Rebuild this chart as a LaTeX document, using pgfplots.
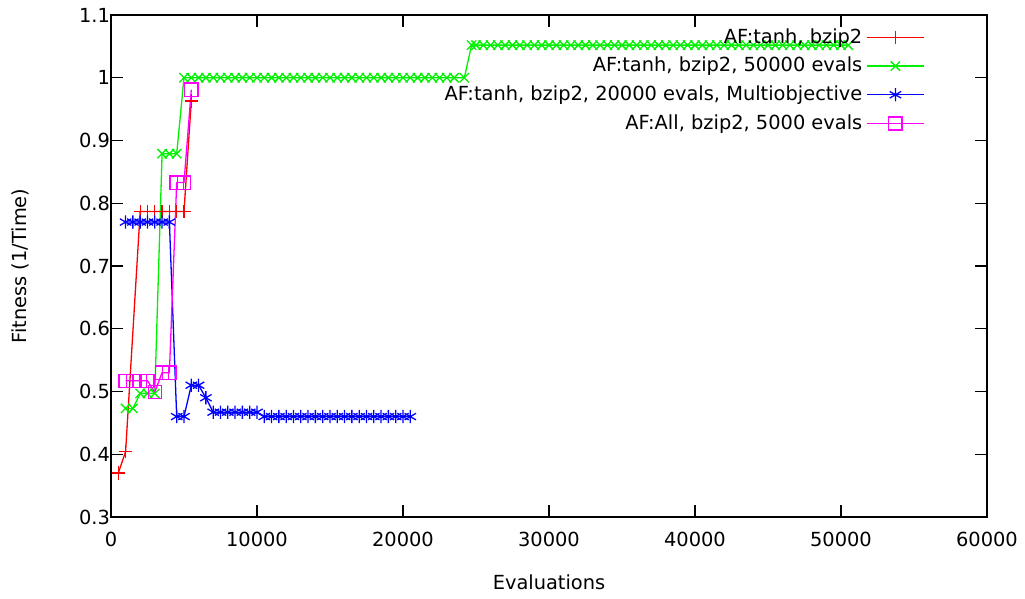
\documentclass[border=0pt]{standalone}
\usepackage{fontspec}
\setmainfont{DejaVu Sans}
\usepackage{pgfplots}
\pgfplotsset{compat=1.18}

\definecolor{gpred}{RGB}{255,0,0}
\definecolor{gpgreen}{RGB}{0,240,0}
\definecolor{gpblue}{RGB}{0,0,255}
\definecolor{gpmag}{RGB}{255,0,255}

\begin{document}
\begin{tikzpicture}
\useasboundingbox (-55.5pt,-41pt) rectangle (457pt,258.5pt);
\begin{axis}[
    scale only axis,
    width=438pt, height=251pt,
    xmin=0, xmax=60000, ymin=0.3, ymax=1.1,
    xtick={0,10000,...,60000},
    ytick={0.3,0.4,...,1.1},
    scaled x ticks=false,
    /pgf/number format/1000 sep={},
    /pgf/number format/assume math mode=true,
    font=\fontsize{9.7}{11.5}\selectfont,
    tick align=inside,
    major tick length=6pt,
    axis line style={line width=0.75pt},
    every tick/.style={black, line width=0.6pt},
    xlabel={Evaluations},
    ylabel={Fitness (1/Time)},
    xlabel style={yshift=-7pt},
    ylabel style={yshift=18pt},
    xticklabel style={yshift=-4pt},
    yticklabel style={xshift=3pt},
    legend plot pos=right,
    legend cell align=right,
    legend style={draw=none, fill=none, at={(0.936,0.99)}, anchor=north east,
        row sep=1.5pt, font=\fontsize{9.7}{11.5}\selectfont},
    legend image code/.code={
        \draw[mark=none] (0.1cm,0cm) -- (1.1cm,0cm);
        \draw[only marks] plot coordinates {(0.6cm,0cm)};
    },
    every axis plot/.append style={line width=0.65pt, mark size=3.3pt},
]
% AF:tanh, bzip2
\addplot[color=gpred, draw=gpred, mark=+, mark options={draw=gpred}] coordinates {
    (500,0.370) (1000,0.404) (2000,0.787) (2500,0.787) (3000,0.787)
    (3500,0.787) (4000,0.787) (4500,0.787) (5000,0.787) (5500,0.963)
};
\addlegendentry{AF:tanh, bzip2}
% AF:tanh, bzip2, 50000 evals
\addplot[color=gpgreen, draw=gpgreen, mark=x, mark options={draw=gpgreen}] coordinates {
    (1000,0.473) (1500,0.473) (2000,0.497) (2500,0.497) (3000,0.497)
    (3500,0.879) (4000,0.879) (4500,0.879)
    (5000,1.0) (5500,1.0) (6000,1.0) (6500,1.0) (7000,1.0) (7500,1.0)
    (8000,1.0) (8500,1.0) (9000,1.0) (9500,1.0) (10000,1.0) (10500,1.0)
    (11000,1.0) (11500,1.0) (12000,1.0) (12500,1.0) (13000,1.0) (13500,1.0)
    (14000,1.0) (14500,1.0) (15000,1.0) (15500,1.0) (16000,1.0) (16500,1.0)
    (17000,1.0) (17500,1.0) (18000,1.0) (18500,1.0) (19000,1.0) (19500,1.0)
    (20000,1.0) (20500,1.0) (21000,1.0) (21500,1.0) (22000,1.0) (22500,1.0)
    (23000,1.0) (23500,1.0) (24200,1.0)
    (24700,1.052) (25000,1.052) (25500,1.052) (26000,1.052) (26500,1.052)
    (27000,1.052) (27500,1.052) (28000,1.052) (28500,1.052) (29000,1.052)
    (29500,1.052) (30000,1.052) (30500,1.052) (31000,1.052) (31500,1.052)
    (32000,1.052) (32500,1.052) (33000,1.052) (33500,1.052) (34000,1.052)
    (34500,1.052) (35000,1.052) (35500,1.052) (36000,1.052) (36500,1.052)
    (37000,1.052) (37500,1.052) (38000,1.052) (38500,1.052) (39000,1.052)
    (39500,1.052) (40000,1.052) (40500,1.052) (41000,1.052) (41500,1.052)
    (42000,1.052) (42500,1.052) (43000,1.052) (43500,1.052) (44000,1.052)
    (44500,1.052) (45000,1.052) (45500,1.052) (46000,1.052) (46500,1.052)
    (47000,1.052) (47500,1.052) (48000,1.052) (48500,1.052) (49000,1.052)
    (49500,1.052) (50000,1.052) (50500,1.052)
};
\addlegendentry{AF:tanh, bzip2, 50000 evals}
% AF:tanh, bzip2, 20000 evals, Multiobjective
\addplot[color=gpblue, draw=gpblue, mark=asterisk, mark options={draw=gpblue}] coordinates {
    (1000,0.770) (1500,0.770) (2000,0.770) (2500,0.770) (3000,0.770)
    (3500,0.770) (4000,0.770) (4500,0.460) (5000,0.460) (5500,0.510)
    (6000,0.510) (6500,0.490) (7000,0.467) (7500,0.467) (8000,0.467)
    (8500,0.467) (9000,0.467) (9500,0.467) (10000,0.467)
    (10500,0.460) (11000,0.460) (11500,0.460) (12000,0.460) (12500,0.460)
    (13000,0.460) (13500,0.460) (14000,0.460) (14500,0.460) (15000,0.460)
    (15500,0.460) (16000,0.460) (16500,0.460) (17000,0.460) (17500,0.460)
    (18000,0.460) (18500,0.460) (19000,0.460) (19500,0.460) (20000,0.460)
    (20500,0.460)
};
\addlegendentry{AF:tanh, bzip2, 20000 evals, Multiobjective}
% AF:All, bzip2, 5000 evals
\addplot[color=gpmag, draw=gpmag, mark=square, mark options={draw=gpmag}] coordinates {
    (1000,0.517) (1500,0.517) (2000,0.517) (2500,0.517) (3000,0.499)
    (3500,0.530) (4000,0.530) (4500,0.833) (5000,0.833) (5500,0.981)
};
\addlegendentry{AF:All, bzip2, 5000 evals}
\end{axis}
\end{tikzpicture}
\end{document}
